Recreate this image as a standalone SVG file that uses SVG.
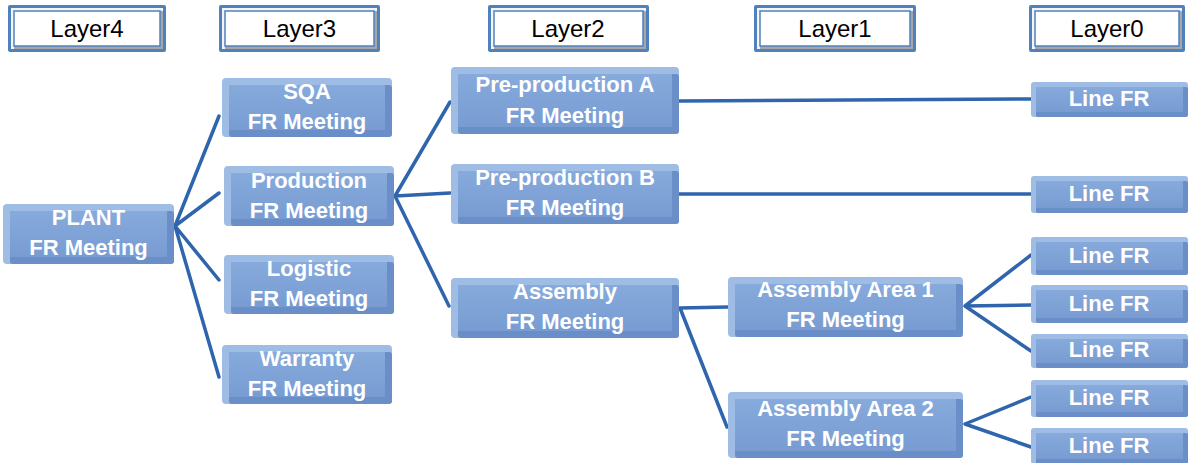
<svg xmlns="http://www.w3.org/2000/svg" width="1189" height="463" viewBox="0 0 1189 463">
<defs>
<style>
.hb{fill:#4f81bd}
.hl{fill:#f4f4f4}
.hd{fill:#a6a6a6}
.hi{fill:#ffffff;stroke:#4f81bd;stroke-width:1.5}
.ht{font-family:"Liberation Sans",Arial,sans-serif;font-size:24px;fill:#000;text-anchor:middle}
.nl{fill:#9fbce5}
.nd{fill:#6a8ec7}
.nm{fill:url(#g)}
.nt{font-family:"Liberation Sans",Arial,sans-serif;font-size:22px;font-weight:bold;fill:#fff;text-anchor:middle}
.ln{stroke:#2f65ad;stroke-width:3.5;fill:none;stroke-linecap:round}
</style>
<linearGradient id="g" x1="0" y1="0" x2="0" y2="1">
<stop offset="0" stop-color="#87aadc"/>
<stop offset="1" stop-color="#789cd2"/>
</linearGradient>
</defs>
<rect width="1189" height="463" fill="#fff"/>

<g id="connectors">
<path class="ln" d="M175 226 L219 116 M175 226 L219 193 M175 226 L219 280 M175 226 L219 377"/>
<path class="ln" d="M395 196 L450 102 M395 196 L450 193 M395 196 L449 306"/>
<path class="ln" d="M679 101 L1031 99"/>
<path class="ln" d="M679 194 L1031 194"/>
<path class="ln" d="M680 308 L728 307 M680 308 L727 427"/>
<path class="ln" d="M965 306 L1031 255 M965 306 L1031 305 M965 306 L1031 351"/>
<path class="ln" d="M965 424 L1031 397 M965 424 L1031 447"/>
</g>

<g id="layer4"><rect class="hb" x="8" y="5" width="158" height="47" rx="2"/><rect class="hl" x="11" y="8" width="152" height="41"/><rect class="hd" x="14" y="11" width="149" height="38"/><rect class="hi" x="14" y="11" width="146" height="35"/><text class="ht" x="87" y="37">Layer4</text></g>
<g id="layer3"><rect class="hb" x="219" y="5" width="161" height="47" rx="2"/><rect class="hl" x="222" y="8" width="155" height="41"/><rect class="hd" x="225" y="11" width="152" height="38"/><rect class="hi" x="225" y="11" width="149" height="35"/><text class="ht" x="299.5" y="37">Layer3</text></g>
<g id="layer2"><rect class="hb" x="488" y="5" width="161" height="47" rx="2"/><rect class="hl" x="491" y="8" width="155" height="41"/><rect class="hd" x="494" y="11" width="152" height="38"/><rect class="hi" x="494" y="11" width="149" height="35"/><text class="ht" x="568" y="37">Layer2</text></g>
<g id="layer1"><rect class="hb" x="754" y="5" width="162" height="47" rx="2"/><rect class="hl" x="757" y="8" width="156" height="41"/><rect class="hd" x="760" y="11" width="153" height="38"/><rect class="hi" x="760" y="11" width="150" height="35"/><text class="ht" x="835" y="37">Layer1</text></g>
<g id="layer0"><rect class="hb" x="1029" y="5" width="156" height="47" rx="2"/><rect class="hl" x="1032" y="8" width="150" height="41"/><rect class="hd" x="1035" y="11" width="147" height="38"/><rect class="hi" x="1035" y="11" width="144" height="35"/><text class="ht" x="1107" y="37">Layer0</text></g>

<g id="plant"><rect class="nl" x="3" y="204" width="171" height="60" rx="4"/><rect class="nd" x="10" y="211" width="164" height="53" rx="3"/><rect class="nm" x="10" y="211" width="157" height="46"/><text class="nt" x="88.5" y="225">PLANT</text><text class="nt" x="88.5" y="255">FR Meeting</text></g>
<g id="sqa"><rect class="nl" x="222" y="78" width="170" height="59" rx="4"/><rect class="nd" x="229" y="85" width="163" height="52" rx="3"/><rect class="nm" x="229" y="85" width="156" height="45"/><text class="nt" x="307" y="99">SQA</text><text class="nt" x="307" y="129">FR Meeting</text></g>
<g id="production"><rect class="nl" x="224" y="166" width="170" height="60" rx="4"/><rect class="nd" x="231" y="173" width="163" height="53" rx="3"/><rect class="nm" x="231" y="173" width="156" height="46"/><text class="nt" x="309" y="188">Production</text><text class="nt" x="309" y="218">FR Meeting</text></g>
<g id="logistic"><rect class="nl" x="224" y="255" width="170" height="59" rx="4"/><rect class="nd" x="231" y="262" width="163" height="52" rx="3"/><rect class="nm" x="231" y="262" width="156" height="45"/><text class="nt" x="309" y="276">Logistic</text><text class="nt" x="309" y="306">FR Meeting</text></g>
<g id="warranty"><rect class="nl" x="222" y="345" width="170" height="59" rx="4"/><rect class="nd" x="229" y="352" width="163" height="52" rx="3"/><rect class="nm" x="229" y="352" width="156" height="45"/><text class="nt" x="307" y="366">Warranty</text><text class="nt" x="307" y="396">FR Meeting</text></g>

<g id="preA"><rect class="nl" x="451" y="67" width="228" height="67" rx="4"/><rect class="nd" x="458" y="74" width="221" height="60" rx="3"/><rect class="nm" x="458" y="74" width="214" height="53"/><text class="nt" x="565" y="92">Pre-production A</text><text class="nt" x="565" y="123">FR Meeting</text></g>
<g id="preB"><rect class="nl" x="451" y="164" width="228" height="60" rx="4"/><rect class="nd" x="458" y="171" width="221" height="53" rx="3"/><rect class="nm" x="458" y="171" width="214" height="46"/><text class="nt" x="565" y="185">Pre-production B</text><text class="nt" x="565" y="215">FR Meeting</text></g>
<g id="assembly"><rect class="nl" x="451" y="278" width="228" height="60" rx="4"/><rect class="nd" x="458" y="285" width="221" height="53" rx="3"/><rect class="nm" x="458" y="285" width="214" height="46"/><text class="nt" x="565" y="299">Assembly</text><text class="nt" x="565" y="329">FR Meeting</text></g>

<g id="area1"><rect class="nl" x="728" y="277" width="235" height="60" rx="4"/><rect class="nd" x="735" y="284" width="228" height="53" rx="3"/><rect class="nm" x="735" y="284" width="221" height="46"/><text class="nt" x="845.5" y="297">Assembly Area 1</text><text class="nt" x="845.5" y="327">FR Meeting</text></g>
<g id="area2"><rect class="nl" x="728" y="392" width="235" height="66" rx="4"/><rect class="nd" x="735" y="399" width="228" height="59" rx="3"/><rect class="nm" x="735" y="399" width="221" height="52"/><text class="nt" x="845.5" y="416">Assembly Area 2</text><text class="nt" x="845.5" y="446">FR Meeting</text></g>

<g id="line1"><rect class="nl" x="1031" y="82" width="157" height="35" rx="3"/><rect class="nd" x="1036" y="87" width="152" height="30" rx="2"/><rect class="nm" x="1036" y="87" width="147" height="25"/><text class="nt" x="1109" y="106">Line FR</text></g>
<g id="line2"><rect class="nl" x="1031" y="176" width="157" height="37" rx="3"/><rect class="nd" x="1036" y="181" width="152" height="32" rx="2"/><rect class="nm" x="1036" y="181" width="147" height="27"/><text class="nt" x="1109" y="201">Line FR</text></g>
<g id="line3"><rect class="nl" x="1031" y="237" width="157" height="38" rx="3"/><rect class="nd" x="1036" y="242" width="152" height="33" rx="2"/><rect class="nm" x="1036" y="242" width="147" height="28"/><text class="nt" x="1109" y="263">Line FR</text></g>
<g id="line4"><rect class="nl" x="1031" y="285" width="157" height="38" rx="3"/><rect class="nd" x="1036" y="290" width="152" height="33" rx="2"/><rect class="nm" x="1036" y="290" width="147" height="28"/><text class="nt" x="1109" y="311">Line FR</text></g>
<g id="line5"><rect class="nl" x="1031" y="334" width="157" height="34" rx="3"/><rect class="nd" x="1036" y="339" width="152" height="29" rx="2"/><rect class="nm" x="1036" y="339" width="147" height="24"/><text class="nt" x="1109" y="357">Line FR</text></g>
<g id="line6"><rect class="nl" x="1031" y="380" width="157" height="37" rx="3"/><rect class="nd" x="1036" y="385" width="152" height="32" rx="2"/><rect class="nm" x="1036" y="385" width="147" height="27"/><text class="nt" x="1109" y="405">Line FR</text></g>
<g id="line7"><rect class="nl" x="1031" y="428" width="157" height="36" rx="3"/><rect class="nd" x="1036" y="433" width="152" height="31" rx="2"/><rect class="nm" x="1036" y="433" width="147" height="26"/><text class="nt" x="1109" y="453">Line FR</text></g>
</svg>
